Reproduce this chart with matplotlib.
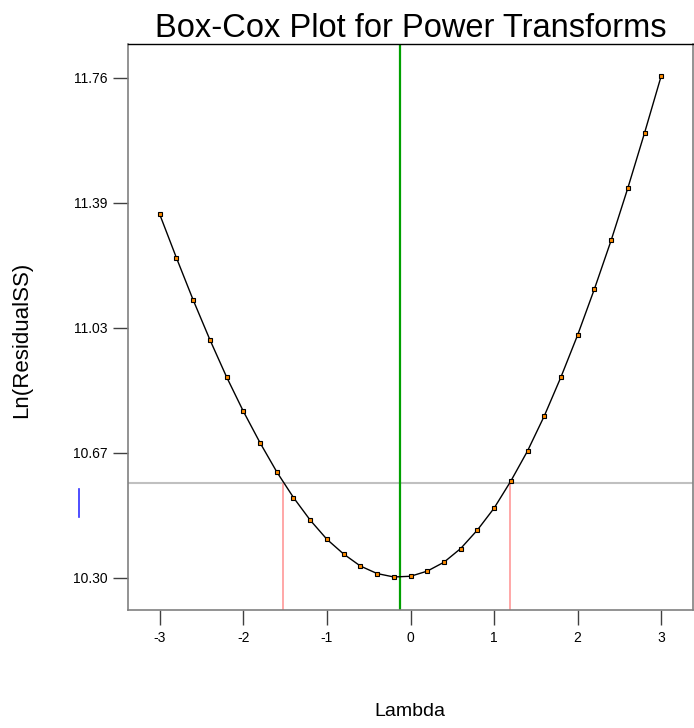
import matplotlib
matplotlib.use('Agg')
import matplotlib.pyplot as plt
from matplotlib.lines import Line2D
import numpy as np

plt.rcParams['font.family'] = ['Liberation Sans', 'DejaVu Sans']

# data
lam = [-3.0, -2.8, -2.6, -2.4, -2.2, -2.0, -1.8, -1.6, -1.4, -1.2, -1.0,
       -0.8, -0.6, -0.4, -0.2, 0.0, 0.2, 0.4, 0.6, 0.8, 1.0,
       1.2, 1.4, 1.6, 1.8, 2.0, 2.2, 2.4, 2.6, 2.8, 3.0]
ln_rss = [11.361, 11.234, 11.111, 10.995, 10.886, 10.786, 10.694, 10.609, 10.534, 10.468, 10.412,
          10.369, 10.334, 10.312, 10.302, 10.304, 10.319, 10.345, 10.385, 10.439, 10.503,
          10.582, 10.670, 10.772, 10.886, 11.009, 11.143, 11.285, 11.438, 11.599, 11.766]
best_lambda = -0.13
ci_low = -1.52
ci_high = 1.19
ci_level = 10.577

xticks = [-3, -2, -1, 0, 1, 2, 3]
yticks = [10.30, 10.665, 11.03, 11.395, 11.76]
ytick_labels = ['10.30', '10.67', '11.03', '11.39', '11.76']

fig = plt.figure(figsize=(6.94, 7.28), dpi=100)
ax = fig.add_axes([128/694, 1-610/728, 565/694, 566/728])

ax.axhline(ci_level, color='#c0c0c0', lw=1.5, zorder=1)
ax.vlines([ci_low, ci_high], 10.2, ci_level, color='#ffa0a0', lw=1.3, zorder=1)
ax.axvline(best_lambda, color='#00a000', lw=1.6, zorder=2)
ax.plot(lam, ln_rss, color='black', lw=1.0, zorder=3)
ax.plot(lam, ln_rss, ls='none', marker='s', ms=3.0, mfc='#ff8c00',
        mec='black', mew=0.8, zorder=4)

ax.set_xlim(-3.38, 3.38)
ax.set_ylim(10.2055, 11.859)
ax.set_xticks(xticks)
ax.set_xticklabels([str(t) for t in xticks])
ax.set_yticks(yticks)
ax.set_yticklabels(ytick_labels)
ax.tick_params(direction='out', length=11, width=1, labelsize=10, pad=4, color='#404040')

for s in ['left', 'bottom', 'right']:
    ax.spines[s].set_color('#808080')
    ax.spines[s].set_linewidth(1.2)
ax.spines['top'].set_color('black')
ax.spines['top'].set_linewidth(1.0)

ax.set_title('Box-Cox Plot for Power Transforms', fontsize=23.5, pad=3)
fig.text(410/694, 1-712/728, 'Lambda', fontsize=14, ha='center', va='center')
fig.text(22/694, 1-340/728, 'Ln(ResidualSS)', fontsize=16, ha='center', va='center',
         rotation=90)

# small blue mark on the left margin
fig.add_artist(Line2D([79/694, 79/694], [1-489/728, 1-517/728], color='#3030ff', lw=1.2))

fig.savefig('out.png', dpi=100)
